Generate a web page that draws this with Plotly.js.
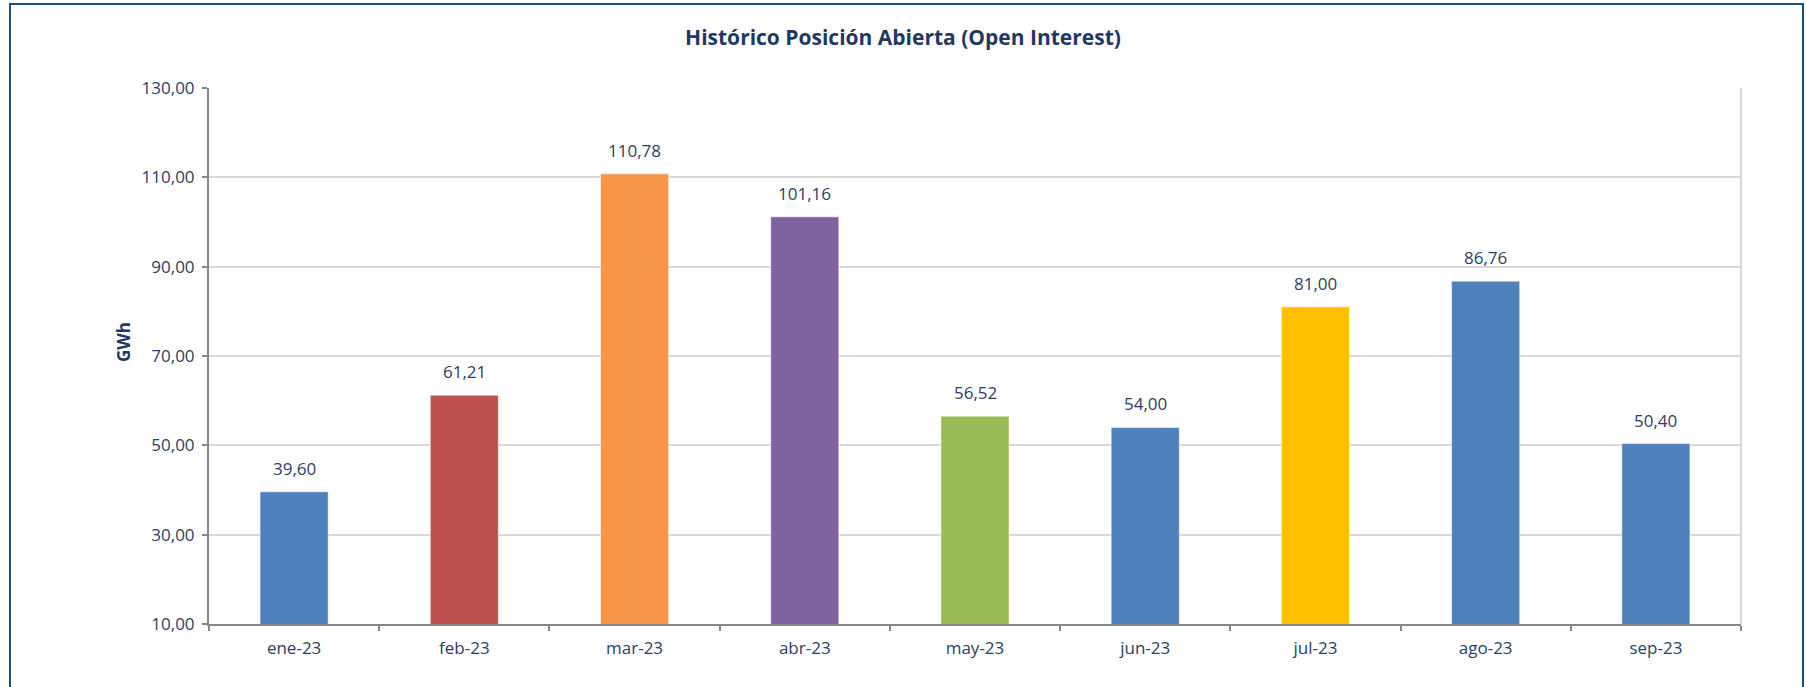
<!DOCTYPE html>
<html>
<head>
<meta charset="utf-8">
<script src="https://cdn.plot.ly/plotly-3.0.1.min.js"></script>
<style>
  body { margin: 0; background: #fff; }
  #chart { width: 1806px; height: 687px; }
  #frame {
    position: absolute; left: 9px; top: 3px; width: 1795px; height: 700px;
    border: 2px solid #1f4e79; box-sizing: border-box; pointer-events: none;
  }
</style>
</head>
<body>
<div id="chart"></div>
<div id="frame"></div>
<script>
// months and open interest values (GWh)
var months = ['ene-23', 'feb-23', 'mar-23', 'abr-23', 'may-23', 'jun-23', 'jul-23', 'ago-23', 'sep-23'];
var values = [39.60, 61.21, 110.78, 101.16, 56.52, 54.00, 81.00, 86.76, 50.40];
var barColors = ['#4f81bd', '#c0504d', '#f79646', '#8064a2', '#9bbb59', '#4f81bd', '#ffc000', '#4f81bd', '#4f81bd'];
var yTicks = [10, 30, 50, 70, 90, 110, 130];

var textColor = '#2e4064';
var fontName = '"Open Sans", sans-serif';

var fmt = function(v){ return v.toFixed(2).replace('.', ','); };

var data = [{
  x: months,
  y: values,
  type: 'bar',
  marker: {
    color: barColors,
    line: { color: 'rgba(255,255,255,0.5)', width: 1 }
  },
  hoverinfo: 'none'
}];

// value labels above bars
var labels = months.map(function(m, i){
  return {
    x: m, y: values[i], xref: 'x', yref: 'y',
    text: fmt(values[i]), showarrow: false,
    yanchor: 'bottom', yshift: 10,
    font: { family: fontName, size: 17, color: textColor }
  };
});

labels.push({
  x: -0.065, y: 0.526, xref: 'paper', yref: 'paper',
  text: '<b>GWh</b>', showarrow: false, textangle: -90,
  font: { family: fontName, size: 17, color: '#1f3864' }
});

var layout = {
  width: 1806,
  height: 687,
  margin: { l: 209, r: 65, t: 88, b: 63 },
  paper_bgcolor: '#ffffff',
  plot_bgcolor: '#ffffff',
  separators: ',.',
  showlegend: false,
  bargap: 0.6,
  title: {
    text: '<b>Histórico Posición Abierta (Open Interest)</b>',
    x: 0.5, xref: 'container', xanchor: 'center',
    y: 0.945, yref: 'container', yanchor: 'middle',
    font: { family: fontName, size: 21, color: '#1f3864' }
  },
  font: { family: fontName, size: 17, color: textColor },
  xaxis: {
    type: 'category',
    tickson: 'boundaries',
    ticks: 'outside',
    ticklen: 5,
    tickwidth: 2,
    tickcolor: '#888888',
    ticklabelstandoff: 8,
    showline: true,
    linecolor: '#888888',
    linewidth: 2,
    showgrid: false,
    tickfont: { family: fontName, size: 17, color: textColor }
  },
  yaxis: {
    range: [10, 130],
    tickvals: yTicks,
    tickformat: '.2f',
    ticks: 'outside',
    ticklen: 5,
    tickwidth: 2,
    tickcolor: '#888888',
    ticklabelstandoff: 4,
    showline: true,
    linecolor: '#888888',
    linewidth: 2,
    gridcolor: '#d9d9d9',
    gridwidth: 2,
    zeroline: false,
    tickfont: { family: fontName, size: 17, color: textColor }
  },
  shapes: [{
    type: 'line', xref: 'paper', yref: 'paper',
    x0: 1, x1: 1, y0: 0, y1: 1,
    line: { color: '#d9d9d9', width: 2 }
  }],
  annotations: labels
};

Plotly.newPlot('chart', data, layout, { displayModeBar: false, staticPlot: true });
</script>
</body>
</html>
